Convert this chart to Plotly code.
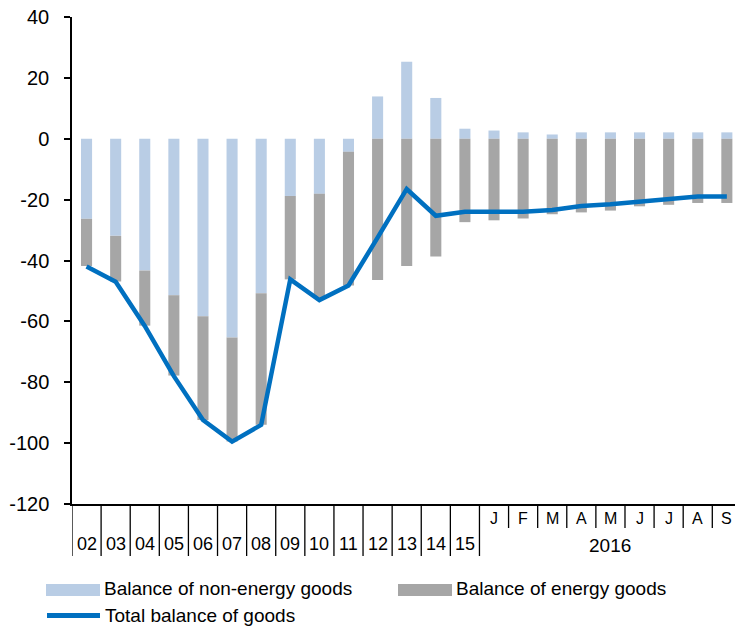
import plotly.graph_objects as go

# ---- data ----
years = ["02", "03", "04", "05", "06", "07", "08", "09", "10", "11", "12", "13", "14", "15"]
months = ["J", "F", "M", "A", "M", "J", "J", "A", "S"]
month_year = "2016"
categories = years + [f"{month_year}-{i + 1:02d}" for i in range(len(months))]

non_energy = [-26.3, -31.9, -43.3, -51.4, -58.3, -65.3, -50.8, -18.8, -18.1, -4.3,
              13.9, 25.3, 13.4, 3.3, 2.7, 2.1, 1.4, 2.1, 2.1, 2.1, 2.1, 2.1, 2.1]
energy = [-15.5, -15.0, -18.1, -26.4, -34.1, -34.2, -43.2, -27.4, -34.4, -43.9,
          -46.4, -41.8, -38.7, -27.4, -26.8, -26.2, -24.8, -24.2, -23.6, -22.2, -21.7, -21.1, -21.1]
total = [-42.0, -47.0, -61.5, -78.0, -92.4, -99.5, -94.0, -46.2, -53.0, -48.2,
         -32.5, -16.5, -25.3, -24.0, -24.0, -24.0, -23.4, -22.1, -21.5, -20.6, -19.8, -19.0, -19.0]

names = ["Balance of non-energy goods", "Balance of energy goods", "Total balance of goods"]
y_ticks = [40, 20, 0, -20, -40, -60, -80, -100, -120]

C_NON = "#B9CDE5"
C_EN = "#A6A6A6"
C_TOT = "#0070C0"
FONT = "Liberation Sans, Arial, sans-serif"

fig = go.Figure()
fig.add_trace(go.Bar(x=categories, y=non_energy, name=names[0], marker_color=C_NON,
                     marker_line_width=0, showlegend=False))
fig.add_trace(go.Bar(x=categories, y=energy, name=names[1], marker_color=C_EN,
                     marker_line_width=0, showlegend=False))
fig.add_trace(go.Scatter(x=categories, y=total, name=names[2], mode="lines",
                         line=dict(color=C_TOT, width=4.5), showlegend=False))

# plot-area geometry (pixels) used for paper-coordinate conversions
L, R, T, B = 72, 0, 17, 124
W, H = 735, 628
pw, ph = W - L - R, H - T - B


def py(ypix):
    return (H - B - ypix) / ph


def px(xpix):
    return (xpix - L) / pw


shapes = []
annotations = []
n_years = len(years)
n = len(categories)
# dividers between year groups (full height)
for k in range(n_years + 1):
    shapes.append(dict(type="line", xref="x", yref="paper", x0=k - 0.5, x1=k - 0.5,
                       y0=0, y1=py(556), line=dict(color="black", width=1.3)))
# dividers between months (top row only)
for k in range(n_years + 1, n):
    shapes.append(dict(type="line", xref="x", yref="paper", x0=k - 0.5, x1=k - 0.5,
                       y0=0, y1=py(528), line=dict(color="black", width=1.3)))
for i, yl in enumerate(years):
    annotations.append(dict(x=i, y=py(544), xref="x", yref="paper", text=yl,
                            showarrow=False, font=dict(size=18, color="black", family=FONT),
                            xanchor="center", yanchor="middle"))
for j, m in enumerate(months):
    annotations.append(dict(x=n_years + j, y=py(518), xref="x", yref="paper", text=m,
                            showarrow=False, font=dict(size=16, color="black", family=FONT),
                            xanchor="center", yanchor="middle"))
annotations.append(dict(x=n_years + (len(months) - 1) / 2, y=py(545), xref="x", yref="paper",
                        text=month_year, showarrow=False,
                        font=dict(size=19, color="black", family=FONT),
                        xanchor="center", yanchor="middle"))

# custom legend
shapes.append(dict(type="rect", xref="paper", yref="paper", x0=px(46), x1=px(100),
                   y0=py(596), y1=py(584), fillcolor=C_NON, line=dict(width=0)))
shapes.append(dict(type="rect", xref="paper", yref="paper", x0=px(398), x1=px(452),
                   y0=py(596), y1=py(584), fillcolor=C_EN, line=dict(width=0)))
shapes.append(dict(type="line", xref="paper", yref="paper", x0=px(47), x1=px(100),
                   y0=py(615.5), y1=py(615.5), line=dict(color=C_TOT, width=5)))
for txt, xx, yy in [(names[0], 102, 588), (names[1], 454, 588), (names[2], 103, 615.5)]:
    annotations.append(dict(x=px(xx), y=py(yy), xref="paper", yref="paper", text=txt,
                            showarrow=False, font=dict(size=19, color="black", family=FONT),
                            xanchor="left", yanchor="middle"))

fig.update_layout(
    width=W, height=H,
    margin=dict(l=L, r=R, t=T, b=B),
    barmode="relative",
    bargap=0.62,
    plot_bgcolor="white",
    paper_bgcolor="white",
    font=dict(family=FONT, color="black"),
    shapes=shapes,
    annotations=annotations,
    xaxis=dict(type="category", categoryorder="array", categoryarray=categories,
               range=[-0.5, n - 0.5 - 0.22], showticklabels=False, ticks="",
               showline=True, linecolor="black", linewidth=1.5, showgrid=False,
               zeroline=False, fixedrange=True),
    yaxis=dict(range=[-120, 40], tickvals=y_ticks, ticktext=[str(v) for v in y_ticks],
               ticks="outside", ticklen=6, tickwidth=1.5, tickcolor="black",
               showline=True, linecolor="black", linewidth=1.5, showgrid=False,
               zeroline=False, tickfont=dict(size=20, color="black", family=FONT),
               ticklabelstandoff=11),
)

fig.write_html("out.html", config={"displayModeBar": False},
               post_script="document.body.style.margin='0';document.body.style.overflow='hidden';")
